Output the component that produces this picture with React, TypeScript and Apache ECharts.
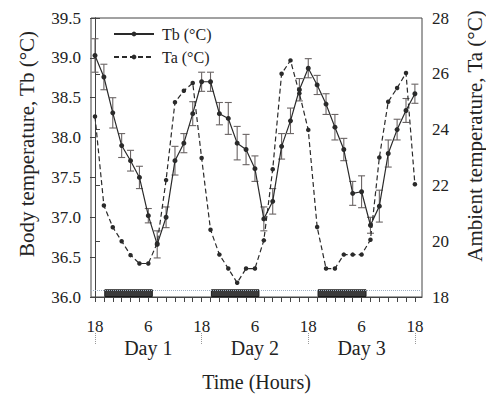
import React, { useEffect, useRef } from "react";
import * as echarts from "echarts";

// Hours since 18:00 of day 1 (samples every 2 h)
const hours = [0, 2, 4, 6, 8, 10, 12, 14, 16, 18, 20, 22, 24, 26, 28, 30, 32, 34, 36, 38, 40, 42, 44, 46, 48, 50, 52, 54, 56, 58, 60, 62, 64, 66, 68, 70, 72];
// Body temperature (°C)
const tb = [39.03, 38.76, 38.31, 37.9, 37.71, 37.5, 37.02, 36.66, 37.0, 37.71, 37.93, 38.3, 38.7, 38.7, 38.3, 38.24, 37.93, 37.85, 37.61, 36.98, 37.2, 37.89, 38.21, 38.6, 38.87, 38.66, 38.42, 38.13, 37.85, 37.3, 37.32, 36.9, 37.14, 37.8, 38.1, 38.34, 38.55];
// Tb error (± °C)
const tbErr = [0.21, 0.16, 0.19, 0.15, 0.13, 0.14, 0.09, 0.17, 0.13, 0.18, 0.12, 0.15, 0.12, 0.12, 0.14, 0.2, 0.21, 0.19, 0.16, 0.15, 0.16, 0.16, 0.16, 0.14, 0.12, 0.12, 0.13, 0.16, 0.14, 0.15, 0.2, 0.1, 0.2, 0.17, 0.13, 0.15, 0.12];
// Ambient temperature (°C)
const ta = [24.47, 21.28, 20.5, 20.0, 19.5, 19.2, 19.2, 19.93, 22.19, 24.98, 25.39, 25.67, 22.98, 20.41, 19.52, 19.02, 18.51, 19.02, 19.02, 20.03, 22.58, 26.0, 26.48, 25.3, 23.99, 20.51, 19.02, 19.02, 19.52, 19.52, 19.52, 20.05, 23.0, 25.0, 25.49, 26.03, 22.04];

// Dark (night) periods, hours since start
const nightStart = [2.2, 26.2, 50.2];
const nightEnd = [12.9, 36.9, 61.0];
const nightBandBottom = 36.0;
const nightBandTop = 36.09;

// Axis labels
const tickLabelHours = [0, 12, 24, 36, 48, 60, 72];
const tickLabels = ["18", "6", "18", "6", "18", "6", "18"];
const dayCenters = [12, 36, 60];
const dayLabels = ["Day 1", "Day 2", "Day 3"];
const daySeparators = [0, 24, 48, 72];
const tbTicks = [36.0, 36.5, 37.0, 37.5, 38.0, 38.5, 39.0, 39.5];
const taTicks = [18, 20, 22, 24, 26, 28];

const FONT = '"Liberation Serif", "Times New Roman", serif';
const INK = "#222";
const AXIS = "#444";

export default function App() {
  const ref = useRef<HTMLDivElement>(null);

  useEffect(() => {
    if (!ref.current) return;
    const chart = echarts.init(ref.current, null, { renderer: "svg" });

    const errData = hours.map((h, i) => [h, tb[i], tbErr[i]]);
    const nightData = nightStart.map((s, i) => [s, nightEnd[i], nightBandBottom, nightBandTop]);

    const option: any = {
      animation: false,
      backgroundColor: "#fff",
      textStyle: { fontFamily: FONT, color: INK },
      grid: {
        left: 91,
        right: 64,
        top: 18,
        bottom: 98,
        containLabel: false,
        outerBoundsMode: "none",
        show: true,
        borderColor: AXIS,
        borderWidth: 1,
        backgroundColor: "transparent",
      },
      legend: {
        data: ["Tb (°C)", "Ta (°C)"],
        orient: "vertical",
        left: 108,
        top: 21,
        itemWidth: 40,
        itemHeight: 6,
        itemGap: 7,
        textStyle: { fontFamily: FONT, fontSize: 16, color: INK, lineHeight: 16, padding: [0, 0, 0, 3] },
      },
      xAxis: [
        {
          type: "value",
          min: -0.9,
          max: 73.6,
          position: "bottom",
          name: "Time (Hours)",
          nameLocation: "middle",
          nameGap: 75,
          nameTextStyle: { fontFamily: FONT, fontSize: 20, color: INK },
          axisLine: { show: true, lineStyle: { color: AXIS, width: 1 } },
          axisTick: { show: true, inside: false, length: 5, customValues: hours, lineStyle: { color: AXIS } },
          axisLabel: {
            show: true,
            customValues: tickLabelHours,
            margin: 21,
            fontFamily: FONT,
            fontSize: 17,
            color: INK,
            formatter: (v: number) => {
              const k = tickLabelHours.indexOf(v);
              return k >= 0 ? tickLabels[k] : "";
            },
          },
          splitLine: { show: false },
        },
        {
          type: "value",
          min: -0.9,
          max: 73.6,
          position: "bottom",
          offset: 36,
          axisLine: { show: false },
          axisTick: {
            show: true,
            inside: false,
            length: 12,
            customValues: daySeparators,
            lineStyle: { color: "#9a9a9a", type: "dotted", width: 1 },
          },
          axisLabel: {
            show: true,
            customValues: dayCenters,
            margin: 5,
            fontFamily: FONT,
            fontSize: 20,
            color: INK,
            formatter: (v: number) => {
              const k = dayCenters.indexOf(v);
              return k >= 0 ? dayLabels[k] : "";
            },
          },
          splitLine: { show: false },
        },
      ],
      yAxis: [
        {
          type: "value",
          position: "left",
          min: tbTicks[0],
          max: tbTicks[tbTicks.length - 1],
          interval: 0.5,
          axisLine: { show: true, lineStyle: { color: AXIS, width: 1 } },
          axisTick: { show: true, inside: false, length: 5, lineStyle: { color: AXIS } },
          axisLabel: {
            margin: 10,
            fontFamily: FONT,
            fontSize: 17,
            color: INK,
            formatter: (v: number) => v.toFixed(1),
          },
          splitLine: { show: false },
        },
        {
          type: "value",
          position: "right",
          min: taTicks[0],
          max: taTicks[taTicks.length - 1],
          interval: 2,
          axisLine: { show: true, lineStyle: { color: AXIS, width: 1 } },
          axisTick: { show: true, inside: false, length: 5, lineStyle: { color: AXIS } },
          axisLabel: {
            margin: 10,
            fontFamily: FONT,
            fontSize: 17,
            color: INK,
          },
          splitLine: { show: false },
        },
      ],
      graphic: [
        {
          type: "text",
          x: 27,
          y: 144,
          rotation: Math.PI / 2,
          style: {
            text: "Body temperature, Tb (°C)",
            font: `21px ${FONT}`,
            fill: INK,
            align: "center",
            verticalAlign: "middle",
            textAlign: "center",
            textVerticalAlign: "middle",
          },
        },
        {
          type: "text",
          x: 475,
          y: 136,
          rotation: Math.PI / 2,
          style: {
            text: "Ambient temperature, Ta (°C)",
            font: `21px ${FONT}`,
            fill: INK,
            align: "center",
            verticalAlign: "middle",
            textAlign: "center",
            textVerticalAlign: "middle",
          },
        },
      ],
      series: [
        {
          name: "night",
          type: "custom",
          xAxisIndex: 0,
          yAxisIndex: 0,
          encode: { x: [0, 1], y: [2, 3] },
          data: nightData,
          silent: true,
          z: 1,
          renderItem: (params: any, api: any) => {
            const p1 = api.coord([api.value(0), api.value(3)]);
            const p2 = api.coord([api.value(1), api.value(2)]);
            return {
              type: "rect",
              shape: { x: p1[0], y: p1[1], width: p2[0] - p1[0], height: p2[1] - p1[1] - 0.5 },
              style: { fill: "#3a3a3a", stroke: "#1a1a1a", lineWidth: 1 },
            };
          },
        },
        {
          name: "Tb err",
          type: "custom",
          xAxisIndex: 0,
          yAxisIndex: 0,
          data: errData,
          silent: true,
          z: 2,
          renderItem: (params: any, api: any) => {
            const x = api.value(0);
            const y = api.value(1);
            const e = api.value(2);
            const top = api.coord([x, y + e]);
            const bot = api.coord([x, y - e]);
            const hw = 3.5;
            const st = { stroke: "#6a6464", lineWidth: 1.1 };
            return {
              type: "group",
              children: [
                { type: "line", shape: { x1: top[0], y1: top[1], x2: bot[0], y2: bot[1] }, style: st },
                { type: "line", shape: { x1: top[0] - hw, y1: top[1], x2: top[0] + hw, y2: top[1] }, style: st },
                { type: "line", shape: { x1: bot[0] - hw, y1: bot[1], x2: bot[0] + hw, y2: bot[1] }, style: st },
              ],
            };
          },
        },
        {
          name: "Tb (°C)",
          type: "line",
          xAxisIndex: 0,
          yAxisIndex: 0,
          data: hours.map((h, i) => [h, tb[i]]),
          symbol: "circle",
          symbolSize: 5,
          z: 3,
          lineStyle: { color: "#2a2a2a", width: 1.2, type: "solid" },
          itemStyle: { color: "#2a2a2a" },
          markLine: {
            silent: true,
            symbol: ["none", "none"],
            label: { show: false },
            lineStyle: { color: "#9fb0c4", type: "dotted", width: 1 },
            data: [{ yAxis: nightBandTop }],
          },
        },
        {
          name: "Ta (°C)",
          type: "line",
          xAxisIndex: 0,
          yAxisIndex: 1,
          data: hours.map((h, i) => [h, ta[i]]),
          symbol: "circle",
          symbolSize: 4.5,
          z: 3,
          lineStyle: { color: "#2a2a2a", width: 1.2, type: [5, 3] },
          itemStyle: { color: "#2a2a2a" },
        },
      ],
    };

    chart.setOption(option);
    return () => chart.dispose();
  }, []);

  return (
    <div
      ref={ref}
      style={{ position: "fixed", left: 0, top: 0, width: 486, height: 395, background: "#fff" }}
    />
  );
}
